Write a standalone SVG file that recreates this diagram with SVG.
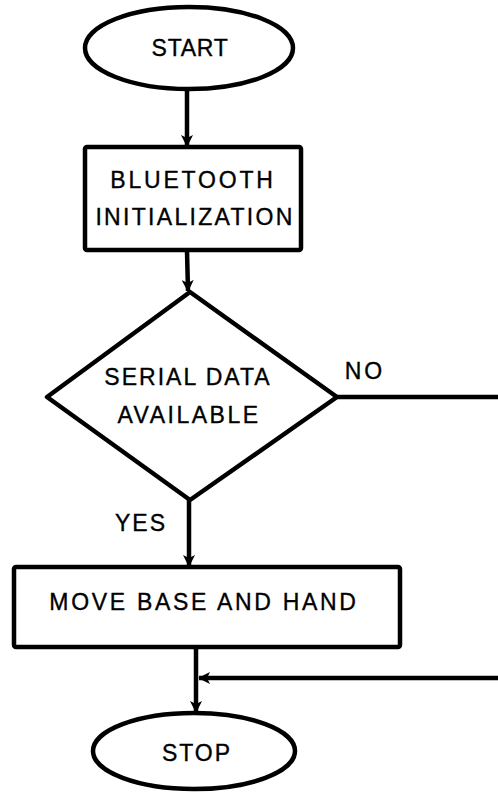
<svg xmlns="http://www.w3.org/2000/svg" width="498" height="792" viewBox="0 0 498 792">
<defs>
<style>
.shape{fill:#fff;stroke:#000;stroke-width:4.5;stroke-linejoin:round}
.line{fill:none;stroke:#000;stroke-width:4.5}
text{font-family:"Liberation Sans",Arial,sans-serif;font-size:23px;fill:#000;stroke:#000;stroke-width:0.35;text-anchor:middle;dominant-baseline:central;letter-spacing:2.2px}
</style>
<marker id="ah" viewBox="0 0 12 12" refX="11" refY="6" markerWidth="12" markerHeight="12" markerUnits="userSpaceOnUse" orient="auto">
<path d="M0,0 L12,6 L0,12 L3,6 Z" fill="#000"/>
</marker>
</defs>
<rect width="498" height="792" fill="#fff"/>
<g id="connectors">
<line class="line" x1="187" y1="90" x2="187" y2="146" marker-end="url(#ah)"/>
<line class="line" x1="187" y1="251" x2="188" y2="291" marker-end="url(#ah)"/>
<line class="line" x1="189" y1="500" x2="189" y2="566" marker-end="url(#ah)"/>
<line class="line" x1="196" y1="648" x2="196" y2="712" marker-end="url(#ah)"/>
<line class="line" x1="337" y1="397" x2="498" y2="397"/>
<line class="line" x1="498" y1="678" x2="199" y2="678" marker-end="url(#ah)"/>
</g>
<g id="start">
<ellipse class="shape" cx="189" cy="48" rx="104" ry="41"/>
<text x="190" y="48" style="letter-spacing:0.7px">START</text>
</g>
<g id="bluetooth">
<rect class="shape" x="85" y="147" width="216" height="103" rx="2"/>
<text x="193" y="180" style="letter-spacing:2.8px">BLUETOOTH</text>
<text x="195" y="217" style="letter-spacing:2.3px">INITIALIZATION</text>
</g>
<g id="decision">
<polygon class="shape" points="190,292 337,397 190,500 47,397"/>
<text x="188" y="377" style="letter-spacing:2px">SERIAL DATA</text>
<text x="189" y="415" style="letter-spacing:2.5px">AVAILABLE</text>
</g>
<g id="labels">
<text x="365" y="371" style="letter-spacing:3px">NO</text>
<text x="141" y="523" style="letter-spacing:2px">YES</text>
</g>
<g id="move">
<rect class="shape" x="14" y="567" width="386" height="80" rx="2"/>
<text x="204" y="602" style="letter-spacing:2.7px">MOVE BASE AND HAND</text>
</g>
<g id="stop">
<ellipse class="shape" cx="194" cy="751" rx="101" ry="38"/>
<text x="197" y="753" style="letter-spacing:2px">STOP</text>
</g>
</svg>
